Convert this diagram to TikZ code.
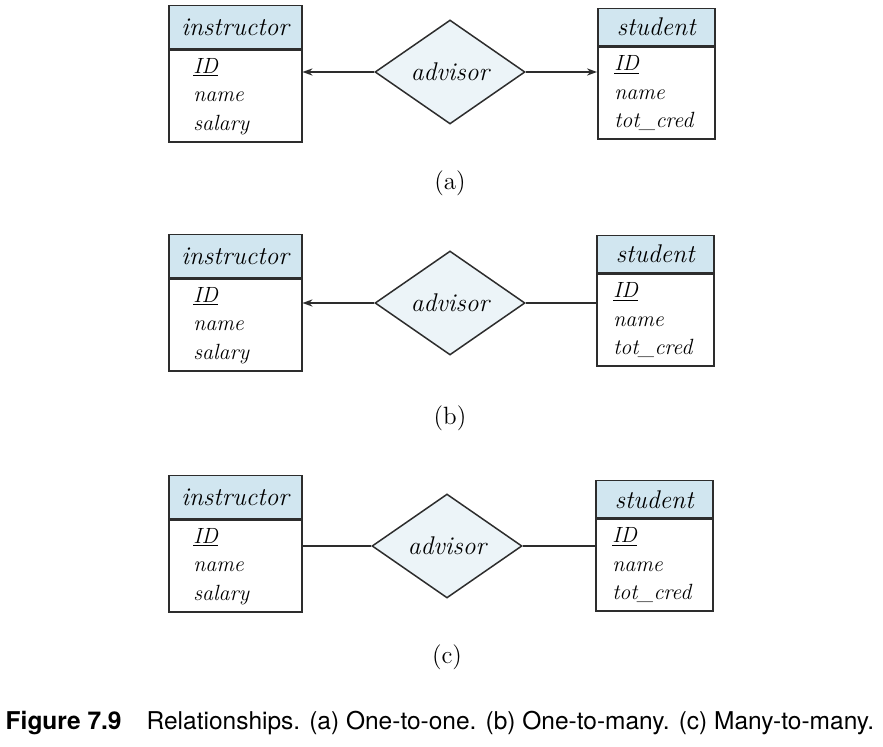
\documentclass[tikz,border=0pt]{standalone}
\usepackage{fontspec}
\usepackage{tikz}
\usetikzlibrary{positioning,shapes.geometric,arrows.meta}
\newfontfamily\capfont{TeX Gyre Heros}
\definecolor{hdrblue}{RGB}{209,230,240}
\definecolor{relblue}{RGB}{236,244,248}
\definecolor{linegray}{RGB}{45,45,45}
\tikzset{entity/.style={rectangle,draw=linegray,fill=hdrblue,line width=0.75pt,inner sep=0pt,anchor=north west,font=\fontsize{12.8}{15}\selectfont\itshape},
	attrs/.style={rectangle,draw=linegray,fill=white,line width=0.75pt,inner ysep=0pt,inner xsep=#1,text width=42pt,minimum height=46pt,align=left,font=\fontsize{11}{14.25}\selectfont\itshape},
	rel/.style={diamond,draw=linegray,fill=relblue,line width=0.75pt,aspect=1.44,inner sep=0pt,minimum width=75pt,minimum height=52pt,font=\fontsize{12.8}{15}\selectfont\itshape},
	sublabel/.style={font=\fontsize{12.5}{15}\selectfont},
	card/.style={-{Stealth[length=5pt,width=3.6pt]}},
}
\begin{document}
\begin{tikzpicture}[x=0.5pt,y=-0.5pt,line width=0.75pt,draw=linegray]
	\useasboundingbox (0,0) rectangle (883,747);
	
	% (a)
	\node[entity,minimum width=66.5pt,minimum height=21.5pt] (instA) at (168,5) {instructor};
	\node[attrs=12.25pt] (instAattr) [below right = 0pt and 0pt of instA.south west] {\underline{ID}\\ name\\ salary};
	\node[entity,minimum width=58.5pt,minimum height=18.5pt] (stuA) at (597,8) {student};
	\node[attrs=8.25pt] (stuAattr) [below right = 0pt and 0pt of stuA.south west] {\underline{ID}\\ name\\ tot\_cred};
	\node[rel] (relA) at (450,72) {advisor};
	\node[sublabel] (labA) at (450,183) {(a)};
	
	\draw[card] (relA.west) -- (relA.west -| instAattr.east);
	\draw[card] (relA.east) -- (relA.east -| stuAattr.west);
	
	% (b)
	\node[entity,minimum width=66.5pt,minimum height=21.5pt] (instB) at (168,234) {instructor};
	\node[attrs=12.25pt] (instBattr) [below right = 0pt and 0pt of instB.south west] {\underline{ID}\\ name\\ salary};
	\node[entity,minimum width=58.5pt,minimum height=18.5pt] (stuB) at (596,235) {student};
	\node[attrs=8.25pt] (stuBattr) [below right = 0pt and 0pt of stuB.south west] {\underline{ID}\\ name\\ tot\_cred};
	\node[rel] (relB) at (450,303) {advisor};
	\node[sublabel] (labB) at (450,418) {(b)};
	
	\draw[card] (relB.west) -- (relB.west -| instBattr.east);
	\draw (relB.east) -- (relB.east -| stuBattr.west);
	
	% (c)
	\node[entity,minimum width=66.5pt,minimum height=21.5pt] (instC) at (168,475) {instructor};
	\node[attrs=12.25pt] (instCattr) [below right = 0pt and 0pt of instC.south west] {\underline{ID}\\ name\\ salary};
	\node[entity,minimum width=58.5pt,minimum height=18.5pt] (stuC) at (595,480) {student};
	\node[attrs=8.25pt] (stuCattr) [below right = 0pt and 0pt of stuC.south west] {\underline{ID}\\ name\\ tot\_cred};
	\node[rel] (relC) at (447,546) {advisor};
	\node[sublabel] (labC) at (447,657) {(c)};
	
	\draw (relC.west) -- (relC.west -| instCattr.east);
	\draw (relC.east) -- (relC.east -| stuCattr.west);
	
	\node[anchor=base west,inner sep=0pt,font=\capfont\fontsize{12.25}{14}\selectfont] (cap) at (5,729) {\textbf{Figure 7.9}\hspace{12.5pt}Relationships. (a) One-to-one. (b) One-to-many. (c) Many-to-many.};
\end{tikzpicture}
\end{document}
